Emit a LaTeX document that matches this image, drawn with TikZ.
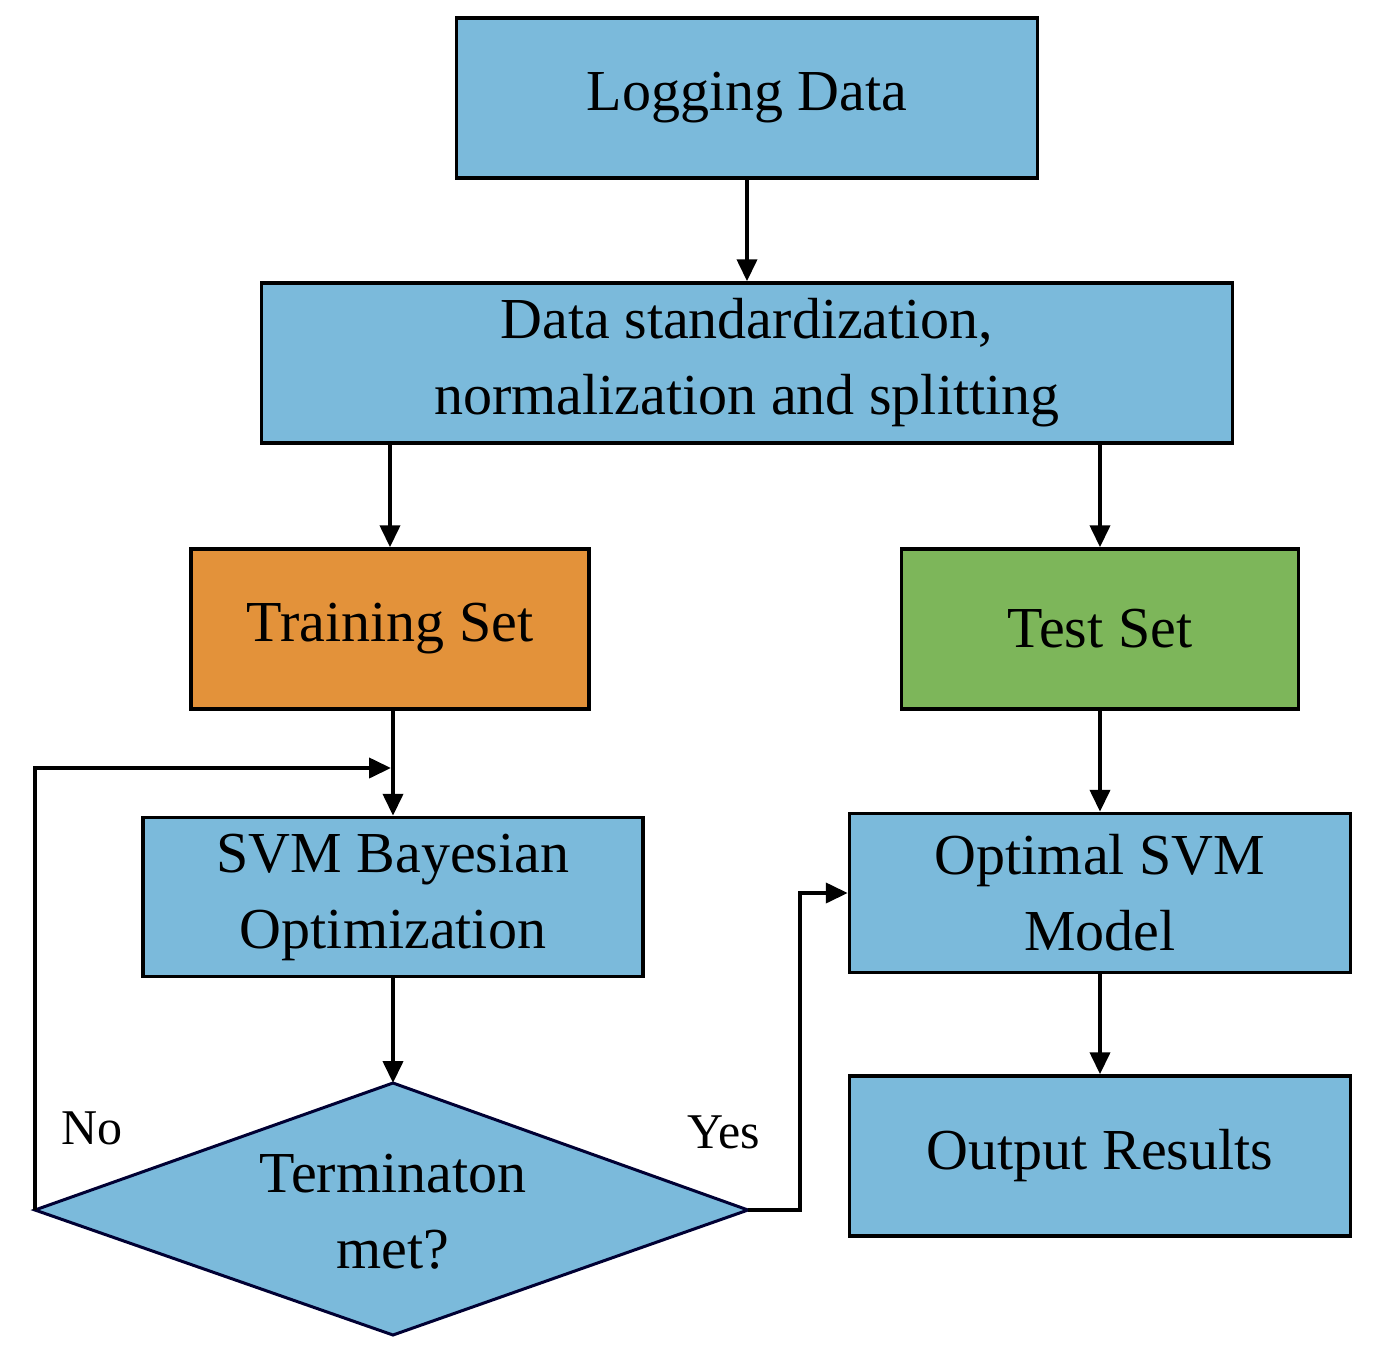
\documentclass[tikz,border=0pt]{standalone}
\usepackage{fontspec}
\setmainfont{Liberation Serif}
\usetikzlibrary{arrows.meta,shapes.geometric}
\definecolor{bl}{HTML}{7BBADB}
\definecolor{or}{HTML}{E3923A}
\definecolor{gr}{HTML}{7DB65A}
\begin{document}
\begin{tikzpicture}[x=1pt,y=-1pt,
  box/.style={draw=black,line width=3.5pt,fill=bl,align=center,font=\fontsize{58}{76}\selectfont,inner sep=0pt},
  ar/.style={line width=4pt,-{Triangle[length=22pt,width=20pt]}}]
\useasboundingbox (0,0) rectangle (1377,1363);
\node[box,minimum width=581,minimum height=160] (log) at (747,98) {Logging Data};
\node[box,minimum width=971,minimum height=160] (std) at (747,363) {Data standardization,\\normalization and splitting};
\node[box,fill=or,minimum width=398,minimum height=160] (tr) at (390,629) {Training Set};
\node[box,fill=gr,minimum width=397,minimum height=160] (te) at (1100,629) {Test Set};
\node[box,minimum width=500,minimum height=159] (svm) at (393,897) {SVM Bayesian\\Optimization};
\node[box,minimum width=501,minimum height=159] (opt) at (1100,893) {Optimal SVM\\Model};
\node[box,minimum width=501,minimum height=160] (out) at (1100,1156) {Output Results};
\draw[line width=3pt,draw=black!80!blue,fill=bl] (35,1210) -- (393,1083) -- (748,1210) -- (393,1335) -- cycle;
\coordinate (dl) at (35,1210); \coordinate (dr) at (748,1210);
\coordinate (dt) at (393,1083);
\node[font=\fontsize{58}{76}\selectfont,align=center] (dtx) at (393,1212) {Terminaton\\met?};
\draw[ar] (log) -- (std);
\draw[ar] (std.south -| tr) -- (tr);
\draw[ar] (std.south -| te) -- (te);
\draw[ar] (tr.south -| svm) -- (svm);
\draw[ar] (svm) -- (dt);
\draw[ar] (te) -- (te |- opt.north);
\draw[ar] (opt) -- (out);
\coordinate (lp) at (391,768);
\draw[ar] (dl) -- (35,768) -- (lp);
\draw[ar] (dr) -- (800,1210) -- (800,893) -- (opt.west);
\node[font=\fontsize{50}{60}\selectfont] (no) at (92,1128) {No};
\node[font=\fontsize{50}{60}\selectfont] (yes) at (724,1132) {Yes};
\end{tikzpicture}
\end{document}
